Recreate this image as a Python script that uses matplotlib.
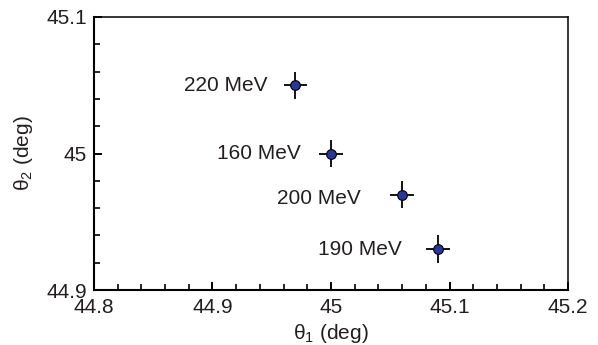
import matplotlib
matplotlib.use('Agg')
import matplotlib.pyplot as plt
from matplotlib.ticker import MultipleLocator

plt.rcParams['font.family'] = ['Liberation Sans', 'DejaVu Sans']
plt.rcParams['mathtext.fontset'] = 'custom'
plt.rcParams['mathtext.rm'] = 'Liberation Sans'
plt.rcParams['mathtext.it'] = 'Liberation Sans'

# data
labels = ['220 MeV', '160 MeV', '200 MeV', '190 MeV']
theta1 = [44.97, 45.00, 45.06, 45.09]
theta2 = [45.05, 45.00, 44.97, 44.93]
err1 = [0.01, 0.01, 0.01, 0.01]
err2 = [0.01, 0.01, 0.01, 0.01]
# label offsets (points)
offx = [-20, -22, -30, -26]
offy = [0, 0, -3, 0]

txtc = '#231f20'
fs = 15
fig = plt.figure(figsize=(5.98, 3.45), dpi=100)
ax = fig.add_axes([0.157, 0.159, 0.793, 0.792])

ax.errorbar(theta1, theta2, xerr=err1, yerr=err2, fmt='o', color='black',
            mfc='#2a3696', mec='black', mew=0.8, ms=7, elinewidth=1.3, capsize=0)

for lab, x, y, dx, dy in zip(labels, theta1, theta2, offx, offy):
    ax.annotate(lab, (x, y), xytext=(dx, dy), textcoords='offset points',
                ha='right', va='center', fontsize=fs, color=txtc)

ax.set_xlim(44.8, 45.2)
ax.set_ylim(44.9, 45.1)
ax.set_xticks([44.8, 44.9, 45.0, 45.1, 45.2])
ax.set_xticklabels(['44.8', '44.9', '45', '45.1', '45.2'])
ax.set_yticks([44.9, 45.0, 45.1])
ax.set_yticklabels(['44.9', '45', '45.1'])
ax.xaxis.set_minor_locator(MultipleLocator(0.02))
ax.yaxis.set_minor_locator(MultipleLocator(0.02))
ax.tick_params(which='both', direction='in', top=False, right=False,
               labelsize=fs, labelcolor=txtc)
ax.tick_params(axis='x', which='major', pad=6)
ax.tick_params(axis='y', which='major', pad=5)
ax.tick_params(which='major', length=6, width=1.4)
ax.tick_params(which='minor', length=4, width=1.2)
for s in ax.spines.values():
    s.set_linewidth(1.5)
ax.spines['top'].set_linewidth(1.1)
ax.spines['right'].set_linewidth(1.1)

ax.set_xlabel(r'θ$_1$ (deg)', fontsize=fs, color=txtc, labelpad=3)
ax.set_ylabel(r'θ$_2$ (deg)', fontsize=fs, color=txtc, labelpad=8)

fig.savefig('out.png', dpi=100)
